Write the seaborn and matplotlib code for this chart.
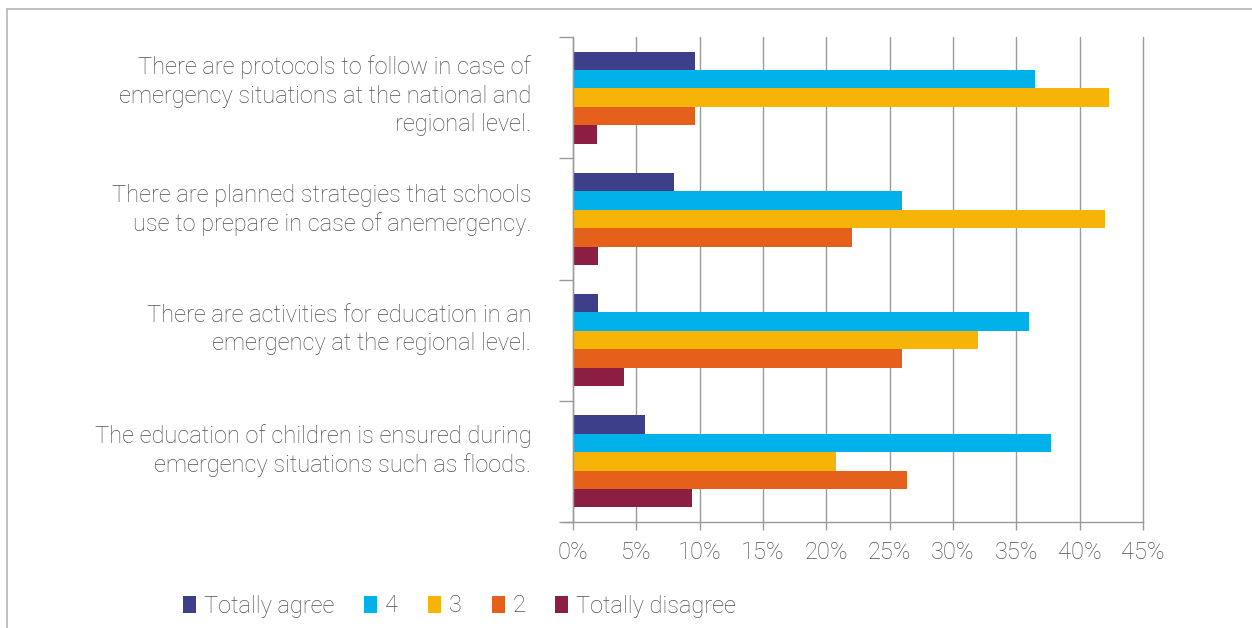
import matplotlib
matplotlib.use("Agg")
import matplotlib.pyplot as plt
import matplotlib.transforms as mtransforms
import seaborn as sns
import pandas as pd
import numpy as np
from matplotlib.patches import Patch
from matplotlib.lines import Line2D
from matplotlib.ticker import FixedLocator, FuncFormatter

categories = [
    "There are protocols to follow in case of\nemergency situations at the national and\nregional level.",
    "There are planned strategies that schools\nuse to prepare in case of anemergency.",
    "There are activities for education in an\nemergency at the regional level.",
    "The education of children is ensured during\nemergency situations such as floods.",
]
series_names = ["Totally agree", "4", "3", "2", "Totally disagree"]
totally_agree = [9.6, 8.0, 2.0, 5.7]
four = [36.5, 26.0, 36.0, 37.7]
three = [42.3, 42.0, 32.0, 20.8]
two = [9.6, 22.0, 26.0, 26.4]
totally_disagree = [1.9, 2.0, 4.0, 9.4]
x_ticks = [0, 5, 10, 15, 20, 25, 30, 35, 40, 45]
colors = ["#3D3F8A", "#00B1EA", "#F7B408", "#E5601A", "#8C1E43"]

sns.set_theme(style="white")
plt.rcParams["font.family"] = ["Roboto", "DejaVu Sans"]
text_color = "#505050"
fs = 17
fw = "light"

rows = []
for name, vals in zip(series_names, [totally_agree, four, three, two, totally_disagree]):
    for c, v in zip(categories, vals):
        rows.append({"category": c, "series": name, "value": v})
df = pd.DataFrame(rows)

fig = plt.figure(figsize=(12.52, 6.28), dpi=100)
ax = fig.add_axes([573 / 1252, 1 - 522 / 628, (1143 - 573) / 1252, (522 - 37) / 628])

sns.barplot(data=df, y="category", x="value", hue="series", order=categories,
            hue_order=series_names, palette=colors, orient="h", width=0.76,
            linewidth=0, saturation=1, ax=ax, legend=False, errorbar=None)

ax.set_xlim(0, 45)
ax.set_ylim(3.5, -0.5)
ax.xaxis.set_major_locator(FixedLocator(x_ticks))
ax.xaxis.set_major_formatter(FuncFormatter(lambda v, p: f"{int(v)}%"))
ax.grid(axis="x", color="#9a9a9a", linewidth=1.0)
ax.set_axisbelow(True)
ax.set_xlabel("")
ax.set_ylabel("")
for gl in ax.get_xgridlines():
    gl.set_clip_on(False)

for s in ["top", "right"]:
    ax.spines[s].set_visible(False)
for s in ["left", "bottom"]:
    ax.spines[s].set_visible(True)
    ax.spines[s].set_color("#9a9a9a")
    ax.spines[s].set_linewidth(1.0)

ax.tick_params(axis="x", which="major", length=6, width=1, color="#9a9a9a",
               labelsize=fs, labelcolor=text_color, pad=8, bottom=True)
ax.tick_params(axis="y", which="major", length=0, labelsize=fs,
               labelcolor=text_color, pad=30)
ax.yaxis.set_minor_locator(FixedLocator([-0.5, 0.5, 1.5, 2.5, 3.5]))
ax.tick_params(axis="y", which="minor", length=10, width=1, color="#9a9a9a", left=True)
label_shifts_px = [7, 14, 16, 16]
for lbl, sh in zip(ax.get_yticklabels(), label_shifts_px):
    lbl.set_horizontalalignment("right")
    lbl.set_linespacing(1.3)
    lbl.set_transform(lbl.get_transform() +
                      mtransforms.ScaledTranslation(0, sh / 100, fig.dpi_scale_trans))
for lbl in ax.get_xticklabels() + ax.get_yticklabels():
    lbl.set_fontweight(fw)

# extend bottom axis line slightly left
ax.plot([-0.8, 0], [3.5, 3.5], color="#9a9a9a", lw=1.0, clip_on=False)

handles = [Patch(facecolor=c, edgecolor="none") for c in colors]
leg = fig.legend(handles, series_names, loc="center left",
                 bbox_to_anchor=(183 / 1252, 1 - 606 / 628), ncol=5, frameon=False,
                 handlelength=0.55, handleheight=0.7, handletextpad=0.35,
                 columnspacing=1.25, fontsize=fs, borderpad=0, borderaxespad=0)
for t in leg.get_texts():
    t.set_color(text_color)
    t.set_fontweight(fw)

# outer frame
fig.add_artist(Line2D([7 / 1252, 1.0], [1 - 9 / 628, 1 - 9 / 628], color="#b5b5b5", lw=1.2))
fig.add_artist(Line2D([7 / 1252, 7 / 1252], [0, 1 - 9 / 628], color="#b5b5b5", lw=1.2))

fig.savefig("out.png", dpi=100, facecolor="white")
